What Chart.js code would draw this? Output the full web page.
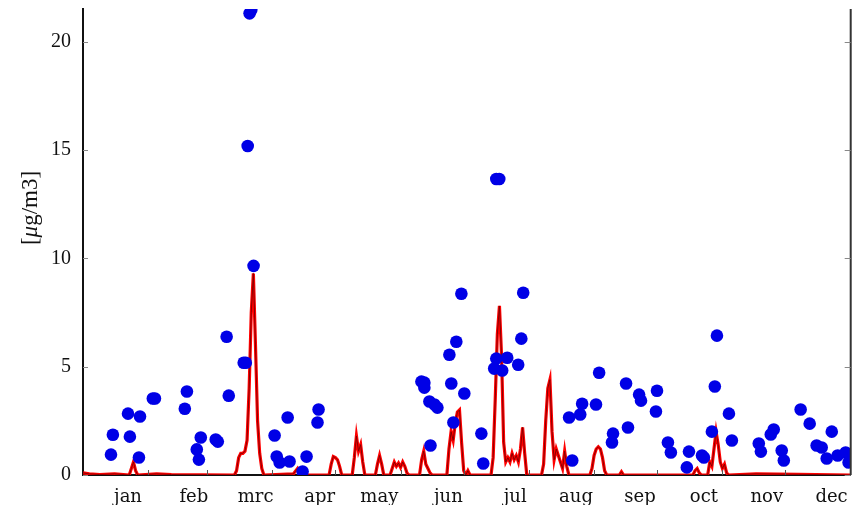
<!DOCTYPE html>
<html>
<head>
<meta charset="utf-8">
<script src="https://cdn.jsdelivr.net/npm/chart.js@4.4.1/dist/chart.umd.min.js"></script>
<style>
html,body{margin:0;padding:0;background:#fff;}
#wrap{width:857px;height:505px;}
</style>
</head>
<body>
<div id="wrap"><canvas id="c" width="857" height="505"></canvas></div>
<script>
// ---- data ----
const monthLabels = ['jan','feb','mrc','apr','may','jun','jul','aug','sep','oct','nov','dec'];
const monthLabelDays = [21.4,52.7,82.1,112.5,140.9,173.7,205.5,234.4,264.8,295.2,325.1,355.9];
const monthEndDays = [31,59,90,120,151,181,212,243,273,304,334];
const yTickValues = [0,5,10,15,20];
const yTitleParts = ['[', 'μ', 'g/m3]'];

const dotDays = [13.3,14.2,21.4,22.3,27.1,26.6,33.2,34.2,48.4,49.4,54.1,55.1,56.0,63.1,64.1,68.3,69.3,76.4,77.4,78.3,79.2,80.0,81.1,91.1,92.1,93.5,97.3,98.2,104.4,106.3,111.5,112.0,
  160.9,162.3,162.3,164.7,167.1,168.5,165.2,174.2,177.5,175.1,176.1,181.3,179.9,189.4,190.3,196.5,197.9,196.5,195.5,199.3,201.7,206.9,208.4,209.3,
  232.6,231.1,236.4,237.3,245.4,243.9,252.0,251.5,258.2,259.1,264.4,265.3,272.9,272.4,278.1,279.5,288.1,287.1,294.3,295.2,301.4,300.4,299.0,307.1,308.5,
  321.3,322.3,327.0,328.4,332.2,333.2,341.2,345.5,348.8,351.2,353.6,356.0,358.8,362.6,364.0];
const dotVals = [0.94,1.86,2.83,1.77,2.70,0.81,3.53,3.53,3.06,3.85,1.18,0.71,1.73,1.64,1.54,6.38,3.66,5.18,5.18,15.18,21.3,21.45,9.65,1.82,0.85,0.58,2.65,0.62,0.16,0.85,2.42,3.02,
  4.31,4.26,4.03,3.39,3.25,3.11,1.36,5.55,6.15,4.22,2.42,3.76,8.36,1.91,0.53,13.66,13.66,5.37,4.91,4.82,5.41,5.09,6.29,8.41,
  0.67,2.65,2.79,3.29,4.72,3.25,1.91,1.50,4.22,2.19,3.71,3.43,3.89,2.93,1.50,1.04,1.08,0.35,0.90,0.81,6.43,4.08,2.00,2.83,1.59,
  1.45,1.08,1.87,2.10,1.13,0.67,3.02,2.37,1.36,1.27,0.76,2.00,0.90,1.04,0.58];

const redDays = [0,3,8,15,22,23,24,25,26,35,42,
  72,73,74,75,76,77,78,79,80,81,82,83,84,85,86,
  100,102,103,104,117,118,119,120,121,122,123,
  128,129,130,131,132,133,134,139,140,141,142,143,
  146,147,148,149,150,151,152,153,154,155,
  160,161,162,163,164,165,166,
  173,174,175,176,177,178,179,180,181,182,183,184,
  194,195,196,197,198,199,200,201,202,203,204,205,206,207,208,209,210,211,
  218,219,220,221,222,223,224,225,226,227,228,229,230,231,
  241,242,243,244,245,246,247,248,249,255,256,257,
  290,291,292,293,294,297,298,299,300,301,302,303,304,305,306,307,
  320,340,365];
const redVals = [0.1,0.05,0.02,0.05,0.0,0.3,0.6,0.2,0.0,0.05,0.02,
  0.0,0.2,0.8,1.0,1.0,1.1,1.6,4.0,7.5,9.3,6.0,2.5,1.0,0.3,0.0,
  0.05,0.3,0.1,0.0,0.0,0.5,0.85,0.8,0.7,0.4,0.0,
  0.0,0.8,1.8,1.1,1.4,0.6,0.0,0.0,0.5,0.9,0.5,0.0,
  0.0,0.3,0.6,0.4,0.55,0.35,0.6,0.4,0.1,0.0,
  0.0,0.7,1.1,0.5,0.3,0.1,0.0,
  0.0,1.2,2.0,1.6,2.4,2.9,3.0,1.5,0.2,0.0,0.2,0.0,
  0.0,0.8,3.5,6.5,7.8,5.5,1.5,0.6,0.8,0.6,1.0,0.7,0.9,0.6,1.2,2.2,1.0,0.0,
  0.0,0.5,2.5,4.0,4.4,2.0,0.7,1.2,0.9,0.6,0.3,1.1,0.4,0.0,
  0.0,0.3,0.9,1.2,1.3,1.2,0.8,0.2,0.0,0.0,0.15,0.0,
  0.0,0.2,0.3,0.1,0.0,0.0,0.6,0.4,1.2,2.0,1.4,0.6,0.3,0.5,0.1,0.0,
  0.05,0.03,0.0];

const dotData = dotDays.map((d,i)=>({x:d,y:dotVals[i]}));
const redData = redDays.map((d,i)=>({x:d,y:redVals[i]}));

const serif = "'Liberation Serif', 'DejaVu Serif', serif";
const serifWide = "'DejaVu Serif', 'Liberation Serif', serif";

const framePlugin = {
  id:'frame',
  afterDraw(chart){
    const ctx = chart.ctx, a = chart.chartArea;
    const xs = chart.scales.x, ys = chart.scales.y;
    ctx.save();
    ctx.strokeStyle = '#333';
    ctx.lineWidth = 2;
    ctx.beginPath();
    ctx.moveTo(a.right, a.top);
    ctx.lineTo(a.right, a.bottom);
    ctx.stroke();
    ctx.strokeStyle = '#888';
    ctx.lineWidth = 1;
    yTickValues.forEach(v=>{
      const py = Math.round(ys.getPixelForValue(v))+0.5;
      ctx.beginPath();
      ctx.moveTo(a.left, py); ctx.lineTo(a.left+5, py);
      ctx.moveTo(a.right, py); ctx.lineTo(a.right-6, py);
      ctx.stroke();
    });
    ctx.strokeStyle = '#555';
    monthEndDays.forEach(d=>{
      const px = Math.round(xs.getPixelForValue(d))+0.5;
      ctx.beginPath();
      ctx.moveTo(px, a.bottom); ctx.lineTo(px, a.bottom-5);
      ctx.stroke();
    });
    // y-axis title with italic mu
    const fonts = ['23px '+serif, 'italic 23px '+serif, '23px '+serif];
    let widths = yTitleParts.map((t,i)=>{ ctx.font = fonts[i]; return ctx.measureText(t).width; });
    const total = widths.reduce((p,c)=>p+c,0);
    ctx.translate(31, 208);
    ctx.rotate(-Math.PI/2);
    ctx.fillStyle = '#111';
    ctx.textBaseline = 'middle';
    ctx.textAlign = 'left';
    let x0 = -total/2;
    yTitleParts.forEach((t,i)=>{ ctx.font = fonts[i]; ctx.fillText(t, x0, 0); x0 += widths[i]; });
    ctx.restore();
  }
};

new Chart(document.getElementById('c'), {
  type:'scatter',
  data:{
    datasets:[
      {
        type:'scatter',
        data:dotData,
        backgroundColor:'#0000e6',
        borderColor:'#0000e6',
        pointRadius:6.3,
        pointHoverRadius:6.3,
        borderWidth:0,
        order:0
      },
      {
        type:'line',
        data:redData,
        borderColor:'#7a0000',
        borderWidth:0.9,
        pointRadius:0,
        tension:0,
        fill:false,
        order:1
      },
      {
        type:'line',
        data:redData,
        borderColor:'#ff0000',
        borderWidth:3.2,
        pointRadius:0,
        tension:0,
        fill:false,
        order:2
      }
    ]
  },
  options:{
    responsive:false,
    animation:false,
    devicePixelRatio:1,
    layout:{padding:{top:9,right:5,left:0,bottom:0}},
    plugins:{legend:{display:false},tooltip:{enabled:false}},
    scales:{
      x:{
        type:'linear',
        min:0,max:365,
        afterBuildTicks(s){ s.ticks = monthLabelDays.map(v=>({value:v})); },
        afterFit(s){ s.height = 30; s.paddingLeft = 0; s.paddingRight = 0; },
        grid:{display:false},
        border:{display:true,color:'#111',width:2},
        ticks:{
          autoSkip:false,maxRotation:0,padding:4,
          color:'#111',
          font:{family:serifWide,size:18},
          callback(v,i){ return monthLabels[i]; }
        }
      },
      y:{
        min:0,max:21.5,
        afterBuildTicks(s){ s.ticks = yTickValues.map(v=>({value:v})); },
        afterFit(s){ s.width = 83; s.paddingTop = 0; s.paddingBottom = 0; },
        grid:{display:false},
        border:{display:true,color:'#111',width:2},
        title:{display:false},
        ticks:{
          padding:4,color:'#111',
          font:{family:serif,size:20},
          callback(v){ return String(v); }
        }
      }
    }
  },
  plugins:[framePlugin]
});
</script>
</body>
</html>
